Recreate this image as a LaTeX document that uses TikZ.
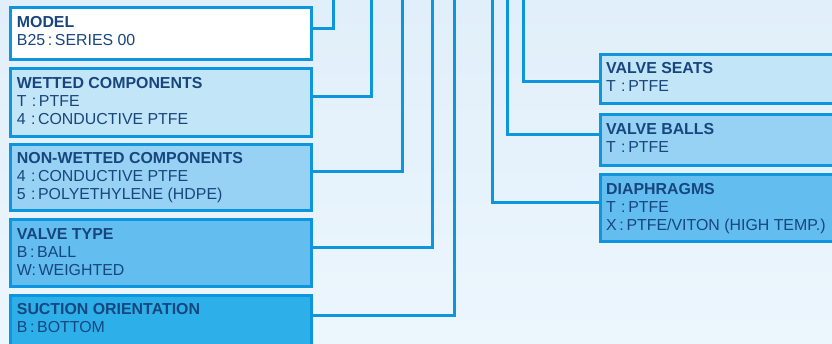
\documentclass[tikz,border=0pt]{standalone}
\usepackage{fontspec}
\setmainfont{Liberation Sans}
\definecolor{bgtop}{HTML}{E1EFFA}
\definecolor{bgbot}{HTML}{ECF6FD}
\definecolor{edge}{HTML}{0D95DE}
\definecolor{ink}{HTML}{17467E}
\definecolor{fa}{HTML}{FFFFFF}
\definecolor{fb}{HTML}{C3E5F8}
\definecolor{fc}{HTML}{97D2F4}
\definecolor{fd}{HTML}{63BDEF}
\definecolor{fe}{HTML}{2DB0EA}
\tikzset{
  box/.style={draw=edge, line width=3pt, rectangle, inner sep=0pt, anchor=north west},
  lbl/.style={anchor=base west, inner sep=0pt, text=ink,
    font=\fontsize{15.9}{17.8}\selectfont},
  conn/.style={draw=edge, line width=3pt},
}
\newcommand{\hd}[1]{\textbf{#1}}
\newcommand{\lines}[1]{\begin{tabular}[t]{@{}l@{}}#1\end{tabular}}
\begin{document}
\begin{tikzpicture}[x=1pt, y={(0pt,-1pt)}]
\useasboundingbox (0,0) rectangle (832,344);
\clip (0,0) rectangle (832,344);
\shade[top color=bgtop, bottom color=bgbot] (0,0) rectangle (832,344);
% connector tops
\coordinate (t1) at (333,0);
\coordinate (t2) at (371.5,0);
\coordinate (t3) at (402,0);
\coordinate (t4) at (432,0);
\coordinate (t5) at (454.5,0);
\coordinate (r1) at (492.5,0);
\coordinate (r2) at (507.5,0);
\coordinate (r3) at (523,0);
% left boxes
\node[box, fill=fa, minimum width=301pt, minimum height=52pt] (model) at (9,6.5) {};
\node[box, fill=fb, minimum width=301pt, minimum height=68pt] (wet) at (9,67.5) {};
\node[box, fill=fc, minimum width=301pt, minimum height=66pt] (nonwet) at (9,143.5) {};
\node[box, fill=fd, minimum width=301pt, minimum height=67pt] (vtype) at (9,218.5) {};
\node[box, fill=fe, minimum width=301pt, minimum height=66pt] (suction) at (9,294.5) {};
% right boxes
\node[box, fill=fb, minimum width=260pt, minimum height=49.5pt] (seats) at (599,53) {};
\node[box, fill=fc, minimum width=260pt, minimum height=51pt] (balls) at (599,113.5) {};
\node[box, fill=fd, minimum width=260pt, minimum height=67pt] (diaph) at (599,173.5) {};
% texts
\node[lbl] (tmodel) at (16.7,28) {\lines{\hd{MODEL}\\B25\,:\,SERIES 00}};
\node[lbl] (twet) at (16.7,89) {\lines{\hd{WETTED COMPONENTS}\\T\,\,:\,PTFE\\4\,\,:\,CONDUCTIVE PTFE}};
\node[lbl] (tnonwet) at (16.7,163.5) {\lines{\hd{NON-WETTED COMPONENTS}\\4\,\,:\,CONDUCTIVE PTFE\\5\,\,:\,POLYETHYLENE (HDPE)}};
\node[lbl] (tvtype) at (16.7,239.5) {\lines{\hd{VALVE TYPE}\\B\,:\,BALL\\W:\,WEIGHTED}};
\node[lbl] (tsuction) at (16.7,315) {\lines{\hd{SUCTION ORIENTATION}\\B\,:\,BOTTOM}};
\node[lbl] (tseats) at (606,73.5) {\lines{\hd{VALVE SEATS}\\T\,\,:\,PTFE}};
\node[lbl] (tballs) at (606,135) {\lines{\hd{VALVE BALLS}\\T\,\,:\,PTFE}};
\node[lbl] (tdiaph) at (606,195) {\lines{\hd{DIAPHRAGMS}\\T\,\,:\,PTFE\\X\,:\,PTFE/VITON (HIGH TEMP.)}};
% connectors
\draw[conn] (model.east |- 0,29) -| (t1);
\draw[conn] (wet.east |- 0,97) -| (t2);
\draw[conn] (nonwet.east |- 0,172) -| (t3);
\draw[conn] (vtype.east |- 0,248) -| (t4);
\draw[conn] (suction.east |- 0,316) -| (t5);
\draw[conn] (diaph.west |- 0,203) -| (r1);
\draw[conn] (balls.west |- 0,135) -| (r2);
\draw[conn] (seats.west |- 0,82) -| (r3);
\end{tikzpicture}
\end{document}
